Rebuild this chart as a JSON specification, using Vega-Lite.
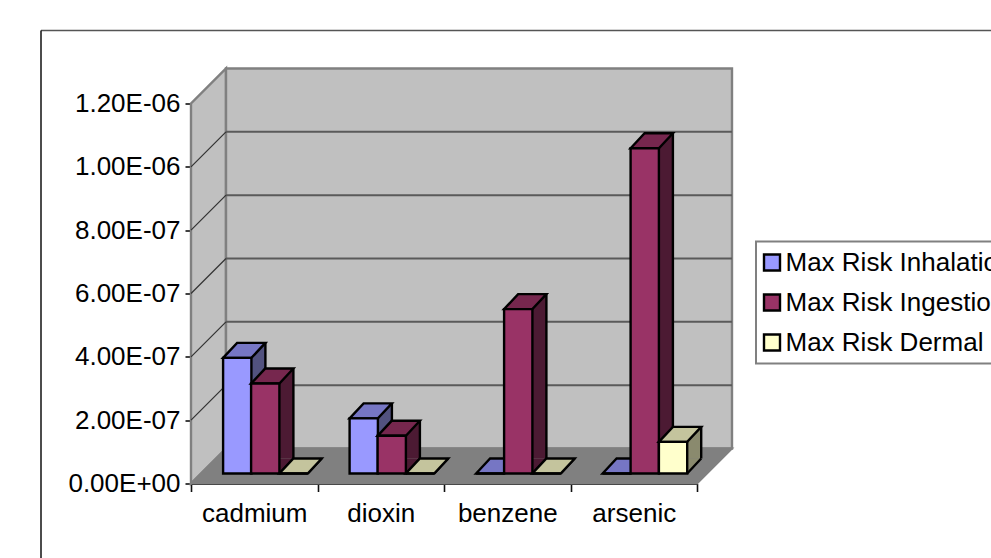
{
"$schema":"https://vega.github.io/schema/vega-lite/v6.json",
"width":506,"height":380,
"padding":{"left":191,"top":103.5,"right":294,"bottom":74.5},
"autosize":{"type":"none"},
"background":"white",
"config":{"view":{"stroke":null},"font":"Liberation Sans",
"axis":{"labelFont":"Liberation Sans","labelFontSize":26,"labelColor":"black","domainColor":"#111","domainWidth":1.8,"tickColor":"#111","tickWidth":1.6,"grid":false,"title":null,"zindex":1},
"legend":{"strokeWidth":2}},
"datasets":{
"bars":[
{"category":"cadmium","series":"Max Risk Inhalation","value":3.65e-7},
{"category":"dioxin","series":"Max Risk Inhalation","value":1.74e-7},
{"category":"benzene","series":"Max Risk Inhalation","value":0},
{"category":"arsenic","series":"Max Risk Inhalation","value":0},
{"category":"cadmium","series":"Max Risk Ingestion","value":2.84e-7},
{"category":"dioxin","series":"Max Risk Ingestion","value":1.19e-7},
{"category":"benzene","series":"Max Risk Ingestion","value":5.19e-7},
{"category":"arsenic","series":"Max Risk Ingestion","value":1.027e-6},
{"category":"cadmium","series":"Max Risk Dermal","value":0},
{"category":"dioxin","series":"Max Risk Dermal","value":0},
{"category":"benzene","series":"Max Risk Dermal","value":0},
{"category":"arsenic","series":"Max Risk Dermal","value":1e-7}
],
"ticks":[{"tick":2e-7},{"tick":4e-7},{"tick":6e-7},{"tick":8e-7},{"tick":1e-6}],
"one":[{"part":"wall"}]
},
"data":{"name":"bars"},
"layer":[
{"data":{"name":"one"},"mark":{"type":"rule","stroke":"#555","strokeWidth":1.5},"encoding":{"x":{"value":-150},"x2":{"value":850},"y":{"value":-73}}},
{"data":{"name":"one"},"mark":{"type":"rule","stroke":"#111","strokeWidth":1.5},"encoding":{"x":{"value":-150},"y":{"value":-73},"y2":{"value":460}}},
{"data":{"name":"one"},"mark":{"type":"point","size":4,"filled":true,"opacity":1,"fill":"#C0C0C0","stroke":"#808080","strokeWidth":2.4,"shape":"M0,0L35,-35L35,-415L0,-380Z"},"encoding":{"x":{"value":0},"y":{"datum":0,"type":"quantitative","scale":{"domain":[0,1.2e-6],"nice":false}}}},
{"data":{"name":"one"},"mark":{"type":"point","size":4,"filled":true,"opacity":1,"fill":"#C0C0C0","stroke":"#808080","strokeWidth":2.4,"shape":"M35,-35L541,-35L541,-415L35,-415Z"},"encoding":{"x":{"value":0},"y":{"datum":0,"type":"quantitative"}}},
{"data":{"name":"one"},"mark":{"type":"point","size":4,"filled":true,"opacity":1,"fill":"#808080","stroke":"#808080","strokeWidth":2,"shape":"M0,0L35,-35L541,-35L506,0Z"},"encoding":{"x":{"value":0},"y":{"datum":0,"type":"quantitative"}}},
{"data":{"name":"ticks"},"mark":{"type":"rule","stroke":"#5a5a5a","strokeWidth":2,"yOffset":-35},"encoding":{"x":{"value":35},"x2":{"value":541},"y":{"field":"tick","type":"quantitative"}}},
{"data":{"name":"ticks"},"mark":{"type":"rule","stroke":"#333","strokeWidth":1.2,"y2Offset":-35},"encoding":{"x":{"value":0},"x2":{"value":35},"y":{"field":"tick","type":"quantitative"},"y2":{"field":"tick"}}},
{"transform":[{"filter":"datum.series === 'Max Risk Inhalation'"}],
"encoding":{
"x":{"field":"category","type":"nominal","scale":{"domain":["cadmium","dioxin","benzene","arsenic"],"paddingInner":0,"paddingOuter":0},"axis":{"labelAngle":0,"tickBand":"extent","tickSize":8,"labelPadding":9,"labelBaseline":"top"}},
"y":{"field":"value","type":"quantitative","axis":{"values":[0,2e-7,4e-7,6e-7,8e-7,1e-6,1.2e-6],"tickSize":6,"labelPadding":5,"labelExpr":"replace(upper(format(datum.value,'.2e')),/E([+-])(\\d)$/,'E$10$2')"}}},
"layer":[
{"mark":{"type":"bar","width":14,"xOffset":4.15,"yOffset":-25,"y2Offset":-25,"fill":"#52527F"},"encoding":{"y2":{"datum":0}}},
{"mark":{"type":"point","size":4,"filled":true,"opacity":1,"fill":"#52527F","strokeWidth":0,"xOffset":-17,"shape":"M14.15,-10L28.15,-25L14.15,-25Z"},"encoding":{"y":{"datum":0,"type":"quantitative"}}},
{"mark":{"type":"point","size":4,"filled":false,"opacity":1,"stroke":"black","strokeWidth":2.4,"xOffset":-17,"shape":"M14.15,-10L28.15,-25"},"encoding":{"y":{"datum":0,"type":"quantitative"}}},
{"mark":{"type":"rule","stroke":"black","strokeWidth":2.4,"xOffset":11.15,"yOffset":-25,"y2Offset":-25},"encoding":{"y2":{"datum":0}}},
{"mark":{"type":"point","size":4,"filled":true,"opacity":1,"fill":"#7676C4","stroke":"black","strokeWidth":2.4,"xOffset":-17,"shape":"M-14.15,-10L-0.15,-25L28.15,-25L14.15,-10Z"}},
{"mark":{"type":"bar","width":28.3,"xOffset":-17,"yOffset":-10,"y2Offset":-10,"stroke":"black","strokeWidth":2.4},"encoding":{"y2":{"datum":0},"fill":{"field":"series","type":"nominal","scale":{"domain":["Max Risk Inhalation","Max Risk Ingestion","Max Risk Dermal"],"range":["#9999FF","#993366","#FFFFCC"]},"legend":{"title":null,"orient":"none","legendX":565,"legendY":138,"symbolType":"square","symbolSize":256,"symbolOffset":-5,"symbolStrokeColor":"black","symbolStrokeWidth":2.4,"symbolOpacity":1,"labelFont":"Liberation Sans","labelFontSize":26,"labelColor":"black","labelLimit":400,"labelOffset":0.5,"rowPadding":14,"padding":8,"fillColor":"white","strokeColor":"#808080"}}}}
]},
{"transform":[{"filter":"datum.series === 'Max Risk Ingestion'"}],
"encoding":{
"x":{"field":"category","type":"nominal"},
"y":{"field":"value","type":"quantitative"}},
"layer":[
{"mark":{"type":"bar","width":14,"xOffset":32.15,"yOffset":-25,"y2Offset":-25,"fill":"#4C1A33"},"encoding":{"y2":{"datum":0}}},
{"mark":{"type":"point","size":4,"filled":true,"opacity":1,"fill":"#4C1A33","strokeWidth":0,"xOffset":11,"shape":"M14.15,-10L28.15,-25L14.15,-25Z"},"encoding":{"y":{"datum":0,"type":"quantitative"}}},
{"mark":{"type":"point","size":4,"filled":false,"opacity":1,"stroke":"black","strokeWidth":2.4,"xOffset":11,"shape":"M14.15,-10L28.15,-25"},"encoding":{"y":{"datum":0,"type":"quantitative"}}},
{"mark":{"type":"rule","stroke":"black","strokeWidth":2.4,"xOffset":39.15,"yOffset":-25,"y2Offset":-25},"encoding":{"y2":{"datum":0}}},
{"mark":{"type":"point","size":4,"filled":true,"opacity":1,"fill":"#76274E","stroke":"black","strokeWidth":2.4,"xOffset":11,"shape":"M-14.15,-10L-0.15,-25L28.15,-25L14.15,-10Z"}},
{"mark":{"type":"bar","width":28.3,"xOffset":11,"yOffset":-10,"y2Offset":-10,"stroke":"black","strokeWidth":2.4},"encoding":{"y2":{"datum":0},"fill":{"field":"series","type":"nominal"}}}
]},
{"transform":[{"filter":"datum.series === 'Max Risk Dermal'"}],
"encoding":{
"x":{"field":"category","type":"nominal"},
"y":{"field":"value","type":"quantitative"}},
"layer":[
{"mark":{"type":"bar","width":14,"xOffset":60.45,"yOffset":-25,"y2Offset":-25,"fill":"#8A8A6E"},"encoding":{"y2":{"datum":0}}},
{"mark":{"type":"point","size":4,"filled":true,"opacity":1,"fill":"#8A8A6E","strokeWidth":0,"xOffset":39.3,"shape":"M14.15,-10L28.15,-25L14.15,-25Z"},"encoding":{"y":{"datum":0,"type":"quantitative"}}},
{"mark":{"type":"point","size":4,"filled":false,"opacity":1,"stroke":"black","strokeWidth":2.4,"xOffset":39.3,"shape":"M14.15,-10L28.15,-25"},"encoding":{"y":{"datum":0,"type":"quantitative"}}},
{"mark":{"type":"rule","stroke":"black","strokeWidth":2.4,"xOffset":67.45,"yOffset":-25,"y2Offset":-25},"encoding":{"y2":{"datum":0}}},
{"mark":{"type":"point","size":4,"filled":true,"opacity":1,"fill":"#C4C49D","stroke":"black","strokeWidth":2.4,"xOffset":39.3,"shape":"M-14.15,-10L-0.15,-25L28.15,-25L14.15,-10Z"}},
{"mark":{"type":"bar","width":28.3,"xOffset":39.3,"yOffset":-10,"y2Offset":-10,"stroke":"black","strokeWidth":2.4},"encoding":{"y2":{"datum":0},"fill":{"field":"series","type":"nominal"}}}
]}
]
}
